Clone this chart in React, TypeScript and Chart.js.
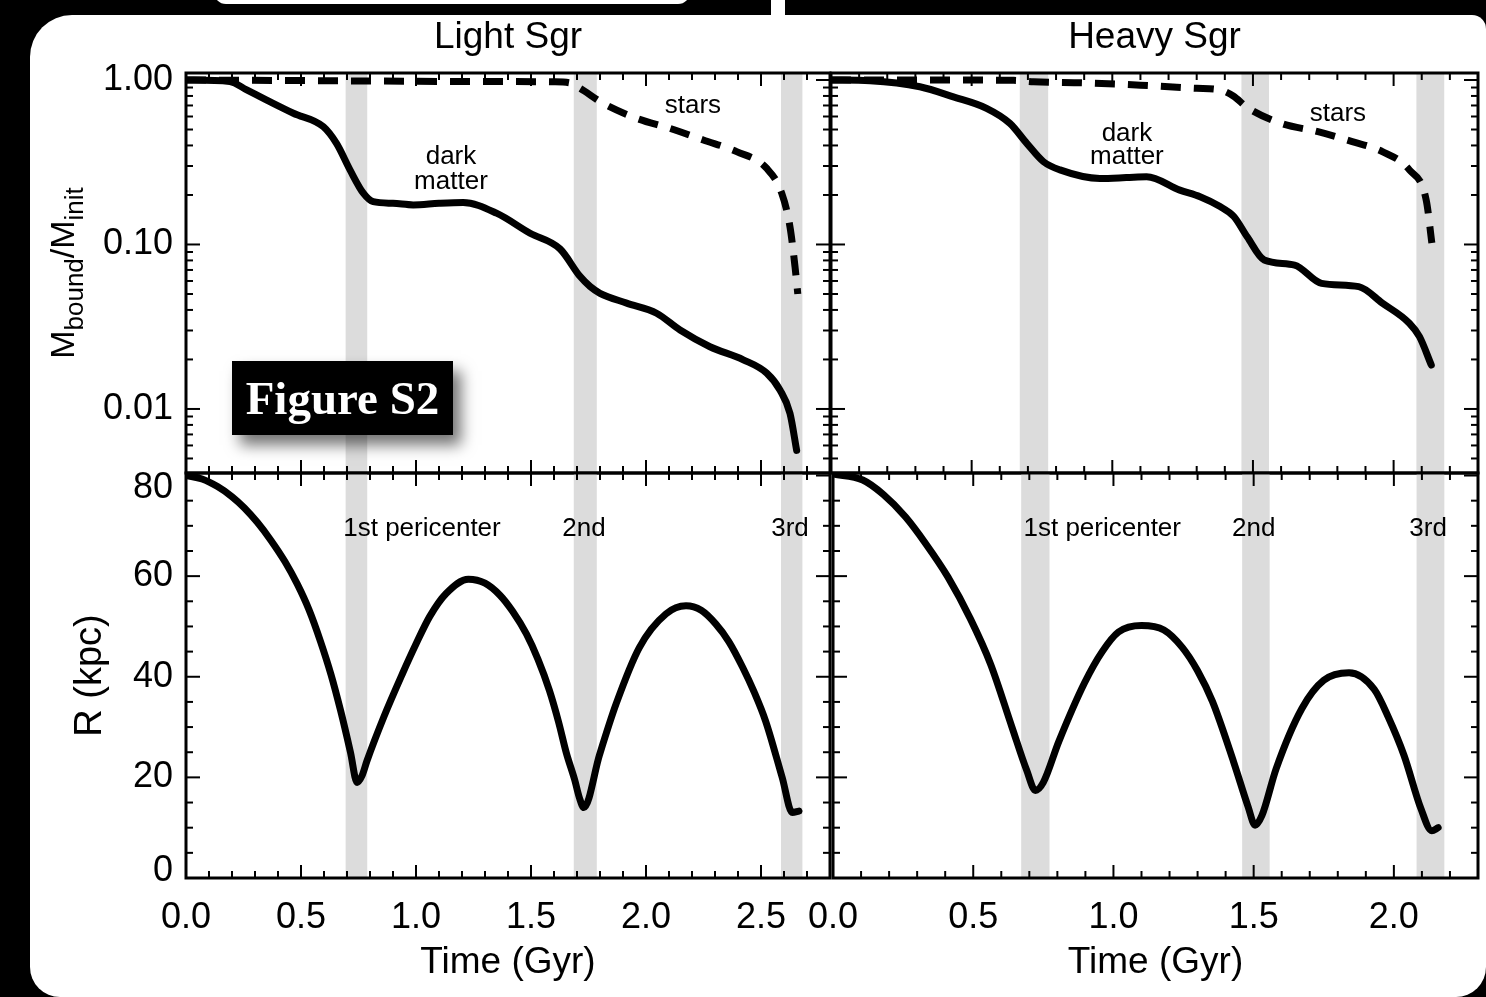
import React, { useEffect, useRef } from "react";
import { Chart, registerables } from "chart.js";

Chart.register(...registerables);

// ---- Light Sgr ----
const lightDmTime = [0, 0.19, 0.264, 0.351, 0.467, 0.597, 0.655, 0.713, 0.771, 0.814, 0.9, 0.988, 1.1, 1.205, 1.35, 1.496, 1.626, 1.713, 1.757, 1.8, 1.916, 2.046, 2.148, 2.278, 2.423, 2.525, 2.583, 2.626, 2.655];
const lightDmMass = [1.0, 0.98, 0.87, 0.755, 0.628, 0.52, 0.41, 0.284, 0.205, 0.182, 0.178, 0.174, 0.178, 0.18, 0.155, 0.117, 0.094, 0.064, 0.0555, 0.0505, 0.044, 0.0382, 0.0302, 0.0239, 0.0199, 0.0165, 0.013, 0.0094, 0.0056];
const lightStarTime = [0, 0.6, 1.2, 1.6, 1.67, 1.713, 1.814, 1.959, 2.104, 2.249, 2.394, 2.525, 2.59, 2.626, 2.648, 2.66];
const lightStarMass = [1.0, 0.99, 0.98, 0.975, 0.96, 0.89, 0.72, 0.585, 0.508, 0.432, 0.367, 0.29, 0.205, 0.128, 0.073, 0.05];
const lightOrbitTime = [0, 0.07, 0.137, 0.2, 0.253, 0.31, 0.368, 0.43, 0.484, 0.535, 0.585, 0.63, 0.672, 0.715, 0.744, 0.765, 0.787, 0.86, 0.94, 1.0, 1.06, 1.13, 1.228, 1.3, 1.365, 1.42, 1.48, 1.53, 1.58, 1.62, 1.654, 1.69, 1.71, 1.73, 1.798, 1.87, 1.971, 2.087, 2.174, 2.24, 2.303, 2.36, 2.419, 2.47, 2.52, 2.592, 2.636, 2.665];
const lightOrbitR = [80, 79.3, 77.8, 75.8, 73.6, 70.7, 67.2, 62.9, 58.4, 53.3, 47.0, 40.5, 33.3, 25.0, 19, 20.3, 23.3, 32, 40.5, 46.5, 52, 56.5, 59.4, 58.6, 56.2, 53, 48.5, 43.5, 37.3, 31, 24.8, 19.5, 16, 14, 24.5, 34.6, 45.8, 52.5, 54.1, 53.2, 50.5, 47, 42, 37, 31.2, 20, 13, 13.3];
const lightPeriStart = [0.694, 1.686, 2.587];
const lightPeriEnd = [0.788, 1.786, 2.68];
const lightPeriLabelTime = [1.026, 1.73, 2.626];
const lightNoteText = ["dark", "matter", "stars"];
const lightNoteTime = [1.152, 1.152, 2.204];
const lightNoteMass = [0.34, 0.24, 0.695];
const lightTimeTicks = [0, 0.5, 1, 1.5, 2, 2.5];

// ---- Heavy Sgr ----
const heavyDmTime = [0, 0.139, 0.316, 0.435, 0.553, 0.636, 0.696, 0.755, 0.814, 0.956, 1.05, 1.122, 1.24, 1.312, 1.383, 1.432, 1.48, 1.54, 1.648, 1.744, 1.876, 1.96, 2.056, 2.092, 2.134];
const heavyDmMass = [1.0, 0.99, 0.91, 0.79, 0.673, 0.545, 0.412, 0.319, 0.284, 0.252, 0.255, 0.258, 0.214, 0.195, 0.17, 0.148, 0.111, 0.0805, 0.075, 0.058, 0.0554, 0.044, 0.0332, 0.0275, 0.0185];
const heavyStarTime = [0, 0.35, 0.65, 0.72, 0.9, 1.1, 1.3, 1.383, 1.43, 1.48, 1.6, 1.731, 1.853, 1.96, 2.056, 2.116, 2.136];
const heavyStarMass = [1.0, 1.0, 0.995, 0.975, 0.96, 0.93, 0.89, 0.87, 0.8, 0.68, 0.545, 0.485, 0.422, 0.367, 0.284, 0.186, 0.102];
const heavyOrbitTime = [0, 0.106, 0.18, 0.258, 0.33, 0.41, 0.49, 0.562, 0.638, 0.69, 0.722, 0.75, 0.805, 0.897, 0.96, 1.018, 1.1, 1.18, 1.246, 1.3, 1.353, 1.429, 1.48, 1.505, 1.53, 1.58, 1.672, 1.75, 1.84, 1.93, 1.98, 2.036, 2.097, 2.135, 2.158];
const heavyOrbitR = [80.3, 79.1, 76.2, 71.8, 66.5, 59.8, 51.5, 42.5, 30, 21.5, 17.4, 19, 27.1, 38.8, 45, 48.9, 50.2, 49.3, 45.8, 41.2, 35.1, 23, 14.2, 10.5, 12.5, 21.7, 33.7, 39.3, 40.8, 37.5, 32, 24.4, 13.7, 9.4, 10];
const heavyPeriStart = [0.671, 1.459, 2.081];
const heavyPeriEnd = [0.772, 1.557, 2.18];
const heavyPeriLabelTime = [0.96, 1.5, 2.122];
const heavyNoteText = ["dark", "matter", "stars"];
const heavyNoteTime = [1.052, 1.052, 1.802];
const heavyNoteMass = [0.47, 0.34, 0.62];
const heavyTimeTicks = [0, 0.5, 1, 1.5, 2];

// ---- shared axes ----
const periLabels = ["1st pericenter", "2nd", "3rd"];
const periLabelR = 69.5;
const massTicks = [0.01, 0.1, 1];
const radiusTicks = [0, 20, 40, 60, 80];
const MASS_MIN = 0.00408;
const MASS_MAX = 1.103;
const R_MAX = 80.5;
const LIGHT_T_MAX = 2.8;
const HEAVY_T_MAX = 2.3;

const FONT = "'Liberation Sans', Arial, sans-serif";
const BIG = 36;
const NOTE = 26;

type Note = { text: string; x: number; y: number };
type Decor = {
  bandStart: number[];
  bandEnd: number[];
  xMax: number;
  yMajor: number[];
  yMinor: number[];
  notes: Note[];
  title?: string;
  massTitle?: boolean;
};

const pts = (xs: number[], ys: number[]) => xs.map((x, i) => ({ x, y: ys[i] }));

function solidLine(xs: number[], ys: number[]) {
  return {
    data: pts(xs, ys),
    borderColor: "#000",
    borderWidth: 7,
    pointRadius: 0,
    fill: false,
    cubicInterpolationMode: "monotone",
    borderJoinStyle: "round",
    borderCapStyle: "round",
  };
}

function dashedLine(xs: number[], ys: number[]) {
  return { ...solidLine(xs, ys), borderWidth: 7, borderDash: [20, 13], borderCapStyle: "butt" };
}

function logMinor(): number[] {
  const out: number[] = [];
  for (const d of [0.001, 0.01, 0.1]) {
    for (let k = 2; k <= 9; k++) {
      const v = d * k;
      if (v >= MASS_MIN && v <= MASS_MAX) out.push(v);
    }
  }
  return out;
}

function linMinor(): number[] {
  const out: number[] = [];
  for (let k = 0; k * 5 <= R_MAX; k++) if (k % 4 !== 0) out.push(k * 5);
  return out;
}

function makeDecor(d: Decor) {
  return {
    id: "panelDecor",
    beforeDatasetsDraw(chart: any) {
      const { ctx, chartArea: a, scales } = chart;
      ctx.save();
      ctx.fillStyle = "#dcdcdc";
      d.bandStart.forEach((s, i) => {
        const x0 = scales.x.getPixelForValue(s);
        const x1 = scales.x.getPixelForValue(d.bandEnd[i]);
        ctx.fillRect(x0, a.top, x1 - x0, a.bottom - a.top);
      });
      ctx.restore();
    },
    afterDatasetsDraw(chart: any) {
      const { ctx, chartArea: a, scales } = chart;
      const xs = scales.x;
      const ys = scales.y;
      ctx.save();
      ctx.strokeStyle = "#000";
      ctx.lineCap = "butt";
      const seg = (x0: number, y0: number, x1: number, y1: number) => {
        ctx.beginPath();
        ctx.moveTo(x0, y0);
        ctx.lineTo(x1, y1);
        ctx.stroke();
      };
      ctx.lineWidth = 2;
      // time ticks every 0.1 Gyr, long ones every 0.5 Gyr, on top and bottom edges
      for (let k = 0; k * 0.1 <= d.xMax + 1e-9; k++) {
        const px = xs.getPixelForValue(k * 0.1);
        const len = k % 5 === 0 ? 13 : 7;
        seg(px, a.bottom, px, a.bottom - len);
        seg(px, a.top, px, a.top + len);
      }
      // vertical ticks on left and right edges
      const yTick = (v: number, len: number) => {
        const py = ys.getPixelForValue(v);
        seg(a.left, py, a.left + len, py);
        seg(a.right, py, a.right - len, py);
      };
      d.yMajor.forEach((v) => yTick(v, 14));
      d.yMinor.forEach((v) => yTick(v, 7));
      // frame
      ctx.lineWidth = 3;
      ctx.strokeRect(a.left, a.top, a.right - a.left, a.bottom - a.top);

      // annotations
      ctx.fillStyle = "#000";
      ctx.textAlign = "center";
      ctx.textBaseline = "middle";
      ctx.font = `${NOTE}px ${FONT}`;
      d.notes.forEach((n) => {
        ctx.fillText(n.text, xs.getPixelForValue(n.x), ys.getPixelForValue(n.y));
      });

      if (d.title) {
        ctx.font = `37px ${FONT}`;
        ctx.fillText(d.title, (a.left + a.right) / 2, a.top - 35);
      }

      if (d.massTitle) {
        const parts = [
          { t: "M", size: 34, dy: 0 },
          { t: "bound", size: 26, dy: 9 },
          { t: "/", size: 34, dy: 0 },
          { t: "M", size: 34, dy: 0 },
          { t: "init", size: 26, dy: 9 },
        ];
        let total = 0;
        const widths = parts.map((p) => {
          ctx.font = `${p.size}px ${FONT}`;
          const w = ctx.measureText(p.t).width;
          total += w;
          return w;
        });
        ctx.translate(32, (a.top + a.bottom) / 2);
        ctx.rotate(-Math.PI / 2);
        ctx.textAlign = "left";
        ctx.textBaseline = "alphabetic";
        let x = -total / 2;
        parts.forEach((p, i) => {
          ctx.font = `${p.size}px ${FONT}`;
          ctx.fillText(p.t, x, 12 + p.dy);
          x += widths[i];
        });
      }
      ctx.restore();
    },
  };
}

type PanelSpec = {
  kind: "mass" | "orbit";
  xMax: number;
  xTicks: number[];
  showY: boolean;
  datasets: any[];
  decor: Decor;
  padding: { left: number; right: number; top: number; bottom: number };
};

function buildConfig(p: PanelSpec): any {
  const tickFont = { family: FONT, size: BIG };
  const showX = p.kind === "orbit";
  const xScale: any = {
    type: "linear",
    min: 0,
    max: p.xMax,
    display: showX,
    position: "bottom",
    grid: { display: false, drawTicks: false },
    border: { display: false },
    afterBuildTicks: (s: any) => {
      s.ticks = p.xTicks.map((value) => ({ value }));
    },
    afterFit: (s: any) => {
      if (showX) s.height = 119;
    },
    ticks: {
      color: "#000",
      font: tickFont,
      padding: 18,
      maxRotation: 0,
      autoSkip: false,
      callback: (v: any) => Number(v).toFixed(1),
    },
    title: {
      display: true,
      text: "Time (Gyr)",
      color: "#000",
      font: { family: FONT, size: 37 },
      padding: { top: 0, bottom: 12 },
    },
  };
  const yCommon: any = {
    display: p.showY,
    grid: { display: false, drawTicks: false },
    border: { display: false },
    afterFit: (s: any) => {
      if (p.showY) s.width = 156;
    },
  };
  const yScale: any =
    p.kind === "mass"
      ? {
          ...yCommon,
          type: "logarithmic",
          min: MASS_MIN,
          max: MASS_MAX,
          afterBuildTicks: (s: any) => {
            s.ticks = massTicks.map((value) => ({ value }));
          },
          ticks: {
            color: "#000",
            font: tickFont,
            padding: 13,
            autoSkip: false,
            callback: (v: any) => Number(v).toFixed(2),
          },
        }
      : {
          ...yCommon,
          type: "linear",
          min: 0,
          max: R_MAX,
          afterBuildTicks: (s: any) => {
            s.ticks = radiusTicks.map((value) => ({ value }));
          },
          ticks: {
            color: "#000",
            padding: 13,
            autoSkip: false,
            // the end labels sit just inside the frame, clear of the neighbouring panel
            font: (c: any) => {
              const v = c.tick ? c.tick.value : null;
              if (v === 80) return { family: FONT, size: BIG, lineHeight: 0.72 };
              if (v === 0) return { family: FONT, size: BIG, lineHeight: 0.36 };
              return tickFont;
            },
            callback: (v: any) => {
              if (v === 80) return ["", String(v)];
              if (v === 0) return [String(v), ""];
              return String(v);
            },
          },
          title: {
            display: true,
            text: "R (kpc)",
            color: "#000",
            font: { family: FONT, size: 38 },
            padding: { top: 38, bottom: 0 },
          },
        };
  return {
    type: "line",
    data: { datasets: p.datasets },
    options: {
      responsive: false,
      animation: false,
      devicePixelRatio: 1,
      layout: { padding: p.padding },
      plugins: { legend: { display: false }, tooltip: { enabled: false }, title: { display: false } },
      scales: { x: xScale, y: yScale },
    },
    plugins: [makeDecor(p.decor)],
  };
}

function ChartPanel({ left, top, width, height, spec }: { left: number; top: number; width: number; height: number; spec: PanelSpec }) {
  const ref = useRef<HTMLCanvasElement>(null);
  useEffect(() => {
    const chart = new Chart(ref.current as HTMLCanvasElement, buildConfig(spec));
    return () => chart.destroy();
  }, []);
  return (
    <canvas
      ref={ref}
      width={width}
      height={height}
      style={{ position: "absolute", left, top, width, height }}
    />
  );
}

const notes = (texts: string[], xs: number[], ys: number[]): Note[] => texts.map((text, i) => ({ text, x: xs[i], y: ys[i] }));

const lightMass: PanelSpec = {
  kind: "mass",
  xMax: LIGHT_T_MAX,
  xTicks: lightTimeTicks,
  showY: true,
  datasets: [solidLine(lightDmTime, lightDmMass), dashedLine(lightStarTime, lightStarMass)],
  decor: {
    bandStart: lightPeriStart,
    bandEnd: lightPeriEnd,
    xMax: LIGHT_T_MAX,
    yMajor: massTicks,
    yMinor: logMinor(),
    notes: notes(lightNoteText, lightNoteTime, lightNoteMass),
    title: "Light Sgr",
    massTitle: true,
  },
  padding: { left: 0, right: 20, top: 58, bottom: 40 },
};

const heavyMass: PanelSpec = {
  kind: "mass",
  xMax: HEAVY_T_MAX,
  xTicks: heavyTimeTicks,
  showY: false,
  datasets: [solidLine(heavyDmTime, heavyDmMass), dashedLine(heavyStarTime, heavyStarMass)],
  decor: {
    bandStart: heavyPeriStart,
    bandEnd: heavyPeriEnd,
    xMax: HEAVY_T_MAX,
    yMajor: massTicks,
    yMinor: logMinor(),
    notes: notes(heavyNoteText, heavyNoteTime, heavyNoteMass),
    title: "Heavy Sgr",
  },
  padding: { left: 41, right: 8, top: 58, bottom: 40 },
};

const lightOrbit: PanelSpec = {
  kind: "orbit",
  xMax: LIGHT_T_MAX,
  xTicks: lightTimeTicks,
  showY: true,
  datasets: [solidLine(lightOrbitTime, lightOrbitR)],
  decor: {
    bandStart: lightPeriStart,
    bandEnd: lightPeriEnd,
    xMax: LIGHT_T_MAX,
    yMajor: radiusTicks,
    yMinor: linMinor(),
    notes: notes(periLabels, lightPeriLabelTime, periLabels.map(() => periLabelR)),
  },
  padding: { left: 0, right: 20, top: 40, bottom: 0 },
};

const heavyOrbit: PanelSpec = {
  kind: "orbit",
  xMax: HEAVY_T_MAX,
  xTicks: heavyTimeTicks,
  showY: false,
  datasets: [solidLine(heavyOrbitTime, heavyOrbitR)],
  decor: {
    bandStart: heavyPeriStart,
    bandEnd: heavyPeriEnd,
    xMax: HEAVY_T_MAX,
    yMajor: radiusTicks,
    yMinor: linMinor(),
    notes: notes(periLabels, heavyPeriLabelTime, periLabels.map(() => periLabelR)),
  },
  padding: { left: 41, right: 8, top: 40, bottom: 0 },
};

export default function App() {
  return (
    <div style={{ position: "absolute", left: 0, top: 0, width: 1486, height: 997, background: "#000", overflow: "hidden" }}>
      <div style={{ position: "absolute", left: 214, top: -20, width: 476, height: 24, background: "#fff", borderRadius: 12 }} />
      <div style={{ position: "absolute", left: 771, top: 0, width: 14, height: 20, background: "#fff" }} />
      <div
        style={{
          position: "absolute",
          left: 30,
          top: 15,
          width: 1456,
          height: 982,
          background: "#fff",
          borderRadius: "42px 14px 30px 30px",
        }}
      />
      <ChartPanel left={30} top={15} width={820} height={498} spec={lightMass} />
      <ChartPanel left={790} top={15} width={696} height={498} spec={heavyMass} />
      <ChartPanel left={30} top={433} width={820} height={564} spec={lightOrbit} />
      <ChartPanel left={790} top={433} width={696} height={564} spec={heavyOrbit} />
      <div
        style={{
          position: "absolute",
          left: 232,
          top: 361,
          width: 221,
          height: 74,
          background: "#000",
          color: "#fff",
          fontFamily: "'Liberation Serif', 'Times New Roman', serif",
          fontWeight: "bold",
          fontSize: 47,
          lineHeight: "74px",
          textAlign: "center",
          boxShadow: "8px 10px 14px rgba(0,0,0,0.55)",
        }}
      >
        Figure S2
      </div>
    </div>
  );
}
